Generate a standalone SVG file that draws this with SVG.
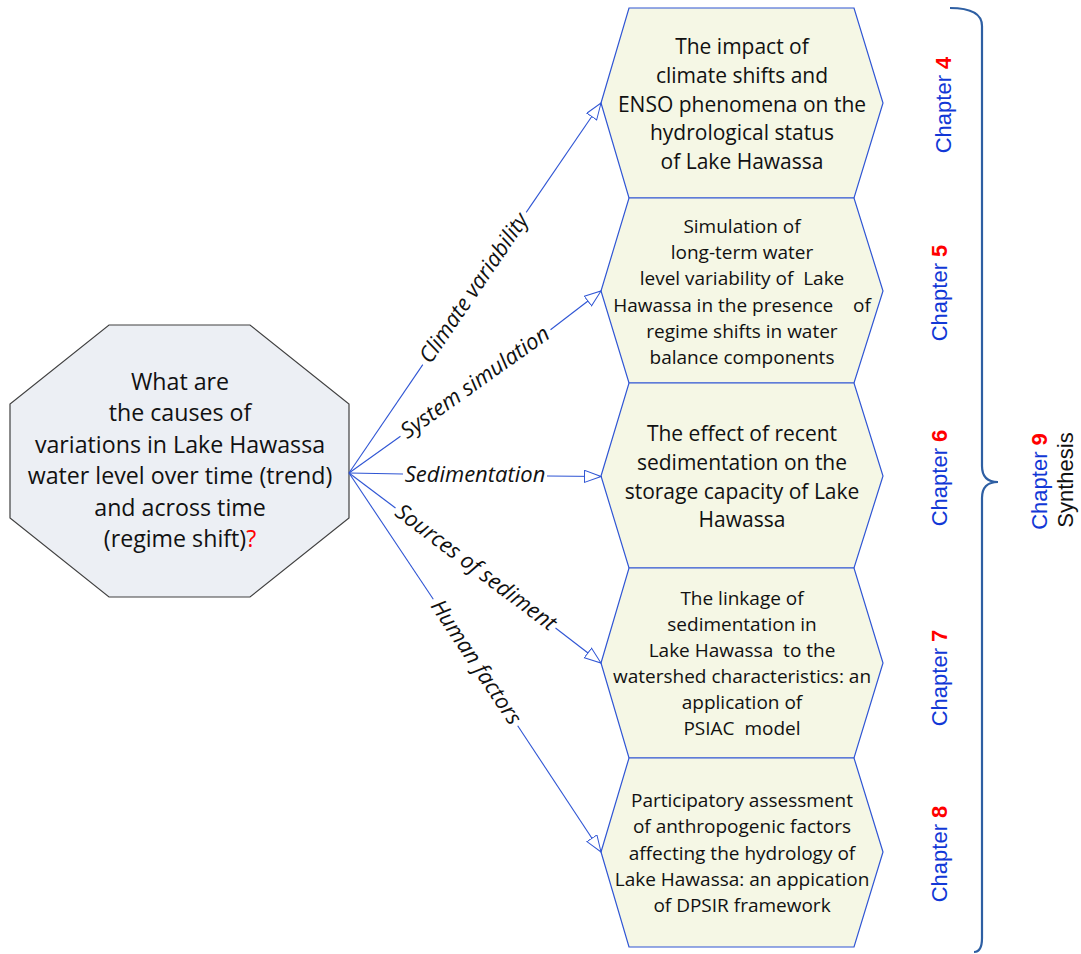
<svg xmlns="http://www.w3.org/2000/svg" width="1081" height="954" viewBox="0 0 1081 954">
<style>
.oct{fill:#ECEFF4;stroke:#404040;stroke-width:1.2}
.hex{fill:#F5F7E5;stroke:#2F55D4;stroke-width:1.2}
.t{font-family:"Open Sans","Liberation Sans",sans-serif;fill:#111;text-anchor:middle}
.o{font-size:23.2px}
.h21{font-size:21px}
.h19{font-size:19px}
.lbl{font-family:"Open Sans","Liberation Sans",sans-serif;font-style:italic;font-size:22px;fill:#111;text-anchor:middle}
.cn{stroke:#2F55D4;stroke-width:1.1;fill:none}
.ch{font-family:"Liberation Sans",Arial,sans-serif;font-size:22px;fill:#1238D6;text-anchor:middle}
.num{fill:#FF0000;font-weight:bold}
.syn{font-family:"Liberation Sans",Arial,sans-serif;font-size:22px;fill:#111;text-anchor:middle}
.brace{fill:none;stroke:#2E5FA3;stroke-width:2.2}
</style>
<defs>
<marker id="arr" markerWidth="18" markerHeight="14" refX="17" refY="6.5" orient="auto" markerUnits="userSpaceOnUse">
<path d="M0.5,0.5 L17,6.5 L0.5,12.5 Z" fill="#fff" stroke="#2F55D4" stroke-width="1"/>
</marker>
</defs>

<g id="question">
<polygon class="oct" points="109,325 250,325 349,404 349,518 250,597 109,597 10,518 10,404"/>
<text class="t o" x="180" y="390">What are</text>
<text class="t o" x="180" y="421.4">the causes of</text>
<text class="t o" x="180" y="452.8">variations in Lake Hawassa</text>
<text class="t o" x="180" y="484.2">water level over time (trend)</text>
<text class="t o" x="180" y="515.6">and across time</text>
<text class="t o" x="180" y="547">(regime shift)<tspan fill="#FF0000">?</tspan></text>
</g>

<g id="ch4-node">
<polygon class="hex" points="629,8 854,8 883,103 854,198 629,198 601,103"/>
<text class="t h21" x="742" y="54">The impact of</text>
<text class="t h21" x="742" y="82.75">climate shifts and</text>
<text class="t h21" x="742" y="111.5">ENSO phenomena on the</text>
<text class="t h21" x="742" y="140.25">hydrological status</text>
<text class="t h21" x="742" y="169">of Lake Hawassa</text>
</g>

<g id="ch5-node">
<polygon class="hex" points="629,198 854,198 883,291 854,383 629,383 601,291"/>
<text class="t h19" x="742" y="232.7">Simulation of</text>
<text class="t h19" x="742" y="259">long-term water</text>
<text class="t h19" x="742" y="285.2" xml:space="preserve">level variability of  Lake</text>
<text class="t h19" x="742" y="311.5" xml:space="preserve">Hawassa in the presence    of</text>
<text class="t h19" x="742" y="337.7">regime shifts in water</text>
<text class="t h19" x="742" y="364">balance components</text>
</g>

<g id="ch6-node">
<polygon class="hex" points="629,383 854,383 883,476 854,568 629,568 601,476"/>
<text class="t h21" x="742" y="440.7">The effect of recent</text>
<text class="t h21" x="742" y="469.6">sedimentation on the</text>
<text class="t h21" x="742" y="498.5">storage capacity of Lake</text>
<text class="t h21" x="742" y="527.3">Hawassa</text>
</g>

<g id="ch7-node">
<polygon class="hex" points="629,568 854,568 883,663 854,758 629,758 601,663"/>
<text class="t h19" x="742" y="605">The linkage of</text>
<text class="t h19" x="742" y="631">sedimentation in</text>
<text class="t h19" x="742" y="657" xml:space="preserve">Lake Hawassa  to the</text>
<text class="t h19" x="742" y="683">watershed characteristics: an</text>
<text class="t h19" x="742" y="709">application of</text>
<text class="t h19" x="742" y="735" xml:space="preserve">PSIAC  model</text>
</g>

<g id="ch8-node">
<polygon class="hex" points="629,758 854,758 883,852 854,947 629,947 601,852"/>
<text class="t h19" x="742" y="807.3">Participatory assessment</text>
<text class="t h19" x="742" y="833.4">of anthropogenic factors</text>
<text class="t h19" x="742" y="859.5">affecting the hydrology of</text>
<text class="t h19" x="742" y="885.6">Lake Hawassa: an appication</text>
<text class="t h19" x="742" y="911.7">of DPSIR framework</text>
</g>

<g id="connectors">
<line class="cn" x1="349" y1="473" x2="422.8" y2="364.6"/>
<line class="cn" x1="526.2" y1="212.4" x2="601" y2="103" marker-end="url(#arr)"/>
<line class="cn" x1="349" y1="473" x2="400.5" y2="436.3"/>
<line class="cn" x1="550.5" y1="329.7" x2="601" y2="291" marker-end="url(#arr)"/>
<line class="cn" x1="349" y1="473" x2="403" y2="474"/>
<line class="cn" x1="547" y1="476" x2="601" y2="476.5" marker-end="url(#arr)"/>
<line class="cn" x1="349" y1="473" x2="395.5" y2="508"/>
<line class="cn" x1="555.5" y1="628" x2="601" y2="663" marker-end="url(#arr)"/>
<line class="cn" x1="349" y1="473" x2="433.3" y2="599.3"/>
<line class="cn" x1="517.7" y1="725.7" x2="601" y2="852" marker-end="url(#arr)"/>
<text class="lbl" transform="translate(474.5,288.5) rotate(-55.8)" y="6.5">Climate variability</text>
<text class="lbl" transform="translate(475.5,383) rotate(-35.4)" y="6.5">System simulation</text>
<text class="lbl" transform="translate(475,475)" y="6.5">Sedimentation</text>
<text class="lbl" transform="translate(475.5,568) rotate(36.9)" y="6.5">Sources of sediment</text>
<text class="lbl" transform="translate(475.5,662.5) rotate(56.3)" y="6.5">Human factors</text>
</g>

<g id="chapter-labels">
<text class="ch" transform="translate(951,105) rotate(-90)">Chapter <tspan class="num">4</tspan></text>
<text class="ch" transform="translate(947,293) rotate(-90)">Chapter <tspan class="num">5</tspan></text>
<text class="ch" transform="translate(947,478) rotate(-90)">Chapter <tspan class="num">6</tspan></text>
<text class="ch" transform="translate(947,678) rotate(-90)">Chapter <tspan class="num">7</tspan></text>
<text class="ch" transform="translate(947,854) rotate(-90)">Chapter <tspan class="num">8</tspan></text>
</g>

<g id="synthesis">
<path class="brace" d="M950,8 Q982,8 982,26 L982,466 Q982,482 998,482 Q982,482 982,498 L982,938 Q982,952 974,952"/>
<text class="ch" transform="translate(1047,481.5) rotate(-90)">Chapter <tspan class="num">9</tspan></text>
<text class="syn" transform="translate(1073,480) rotate(-90)">Synthesis</text>
</g>
</svg>
